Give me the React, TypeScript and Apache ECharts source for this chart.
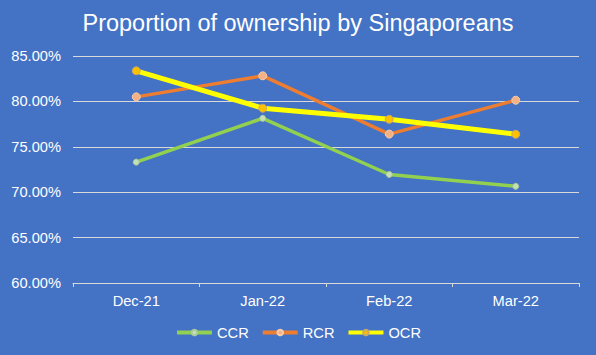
import React, { useEffect, useRef } from "react";
import * as echarts from "echarts";

const categories = ["Dec-21", "Jan-22", "Feb-22", "Mar-22"];
const ccr = [73.31, 78.14, 71.95, 70.65];
const rcr = [80.5, 82.82, 76.4, 80.13];
const ocr = [83.37, 79.25, 78.03, 76.38];

const FONT = "'Liberation Sans', Arial, sans-serif";

export default function App() {
  const ref = useRef<HTMLDivElement>(null);
  useEffect(() => {
    if (!ref.current) return;
    const chart = echarts.init(ref.current, undefined, { renderer: "svg" });
    const mk = (name: string, data: number[], color: string, mColor: string, width: number, size: number, border: string) => ({
      name,
      type: "line",
      data,
      symbol: "circle",
      symbolSize: size,
      showSymbol: true,
      lineStyle: { color, width },
      itemStyle: { color: mColor, borderColor: border, borderWidth: 1 },
      emphasis: { disabled: true },
    });
    chart.setOption({
      animation: false,
      backgroundColor: "#4472C4",
      title: {
        text: "Proportion of ownership by Singaporeans",
        left: "center",
        top: 6,
        textStyle: { color: "#ffffff", fontSize: 23.5, fontWeight: "normal", fontFamily: FONT },
      },
      grid: { left: 73, right: 17, top: 56, bottom: 72, containLabel: false },
      legend: {
        top: 320,
        left: "center",
        itemWidth: 35,
        itemHeight: 7,
        itemGap: 12,
        lineStyle: { width: 4 },
        textStyle: { color: "#ffffff", fontSize: 14.67, fontFamily: FONT },
        data: ["CCR", "RCR", "OCR"],
      },
      xAxis: {
        type: "category",
        data: categories,
        boundaryGap: true,
        axisLine: { lineStyle: { color: "#D9D9D9", width: 1 } },
        axisTick: { show: true, length: 4, lineStyle: { color: "#D9D9D9" } },
        axisLabel: { color: "#ffffff", fontSize: 14.67, fontFamily: FONT, margin: 10 },
      },
      yAxis: {
        type: "value",
        min: 60,
        max: 85,
        interval: 5,
        axisLine: { show: false },
        axisTick: { show: false },
        splitLine: { lineStyle: { color: "#D9D9D9", width: 1 } },
        axisLabel: {
          color: "#ffffff",
          fontSize: 14.67,
          fontFamily: FONT,
          margin: 12,
          formatter: (v: number) => v.toFixed(2) + "%",
        },
      },
      series: [
        mk("CCR", ccr, "#92D050", "#C5E0B4", 3.5, 6, "#A9C9A0"),
        mk("RCR", rcr, "#ED7D31", "#F4B183", 3.5, 8, "#F8CBAD"),
        mk("OCR", ocr, "#FFFF00", "#FFC000", 5, 8, "#C9A86A"),
      ],
    });
    return () => chart.dispose();
  }, []);
  return (
    <div style={{ position: "absolute", left: 0, top: 0 }}>
      <div ref={ref} style={{ width: 596, height: 355 }} />
    </div>
  );
}
